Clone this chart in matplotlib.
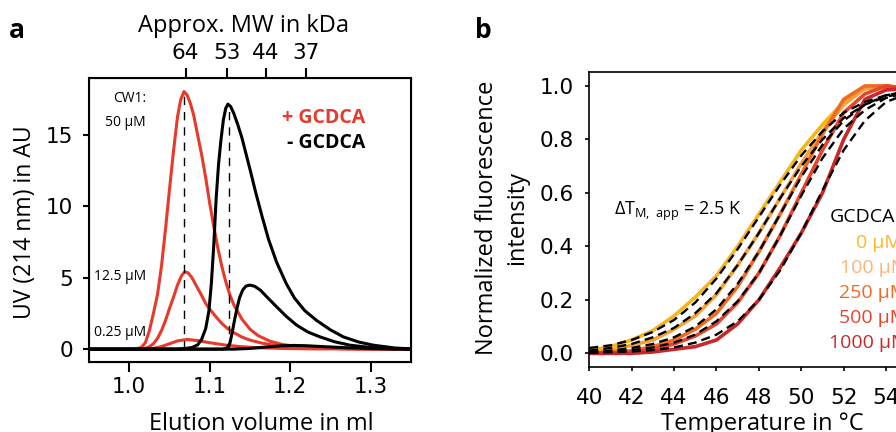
import matplotlib.pyplot as plt

plt.rcParams['font.family'] = ['DejaVu Sans']
LBL = ['Open Sans', 'DejaVu Sans']

# ---- panel a: SEC traces (elution volume in ml, UV in AU)
red50_x = [0.95, 1.00, 1.010, 1.015, 1.020, 1.025, 1.030, 1.035, 1.040, 1.045, 1.050, 1.055, 1.060, 1.064,
           1.068, 1.072, 1.076, 1.080, 1.085, 1.090, 1.095, 1.100, 1.105, 1.110, 1.115, 1.120, 1.125, 1.130,
           1.140, 1.150, 1.160, 1.175, 1.190, 1.210, 1.240, 1.280, 1.35]
red50_y = [0, 0, 0.05, 0.12, 0.45, 1.3, 2.5, 3.8, 5.8, 8.4, 11.2, 13.9, 16.3, 17.5,
           18.05, 17.8, 17.2, 16.4, 15.0, 13.6, 12.0, 10.2, 8.6, 7.1, 5.8, 4.7, 3.8, 3.1,
           2.1, 1.4, 0.95, 0.55, 0.33, 0.18, 0.07, 0.02, 0]
red12_x = [0.95, 1.00, 1.015, 1.020, 1.025, 1.030, 1.035, 1.040, 1.045, 1.050, 1.055, 1.060, 1.065, 1.069,
           1.073, 1.078, 1.084, 1.090, 1.095, 1.100, 1.108, 1.115, 1.122, 1.130, 1.140, 1.150, 1.165, 1.180,
           1.200, 1.230, 1.270, 1.35]
red12_y = [0, 0, 0.02, 0.06, 0.18, 0.38, 0.75, 1.3, 2.0, 2.85, 3.65, 4.5, 5.15, 5.42,
           5.35, 5.0, 4.37, 3.75, 3.2, 2.8, 2.25, 1.8, 1.45, 1.15, 0.85, 0.63, 0.42, 0.28,
           0.17, 0.08, 0.03, 0]
red025_x = [0.95, 1.02, 1.03, 1.04, 1.05, 1.06, 1.072, 1.085, 1.10, 1.12, 1.14, 1.16, 1.19, 1.23, 1.35]
red025_y = [0, 0, 0.05, 0.18, 0.38, 0.58, 0.68, 0.6, 0.45, 0.28, 0.17, 0.1, 0.05, 0.02, 0]

blk50_x = [0.95, 1.06, 1.07, 1.078, 1.085, 1.090, 1.095, 1.099, 1.102, 1.105, 1.108, 1.111, 1.114, 1.117,
           1.120, 1.1226, 1.126, 1.130, 1.135, 1.140, 1.145, 1.150, 1.157, 1.165, 1.173, 1.183, 1.195,
           1.205, 1.218, 1.233, 1.250, 1.266, 1.285, 1.303, 1.33, 1.35]
blk50_y = [0, 0, 0.05, 0.12, 0.3, 0.7, 1.45, 2.7, 4.6, 7.3, 10.6, 13.0, 14.7, 16.1,
           16.9, 17.17, 17.0, 16.5, 15.7, 14.8, 13.7, 12.6, 11.0, 9.3, 7.7, 6.1, 4.6,
           3.6, 2.7, 2.0, 1.35, 0.86, 0.5, 0.28, 0.08, 0.02]
blk12_x = [0.95, 1.115, 1.121, 1.125, 1.128, 1.131, 1.134, 1.137, 1.141, 1.145, 1.150, 1.156, 1.163,
           1.172, 1.183, 1.195, 1.208, 1.222, 1.237, 1.255, 1.274, 1.31, 1.35]
blk12_y = [0, 0, 0.05, 0.4, 1.2, 2.1, 2.9, 3.6, 4.15, 4.42, 4.49, 4.4, 4.13,
           3.6, 2.97, 2.3, 1.68, 1.2, 0.86, 0.52, 0.28, 0.05, 0]
blk025_x = [0.95, 1.13, 1.15, 1.17, 1.19, 1.205, 1.22, 1.24, 1.27, 1.30, 1.33, 1.35]
blk025_y = [0, 0, 0.05, 0.15, 0.24, 0.26, 0.24, 0.18, 0.1, 0.04, 0.01, 0]

peak_pos = [1.0685, 1.124]
peak_top = [18.0, 17.1]
mw_pos = [1.070, 1.121, 1.170, 1.220]
mw_lab = ['64', '53', '44', '37']

# ---- panel b: thermal unfolding, data (solid) and fits (dashed)
temp = [40, 41, 42, 43, 44, 45, 46, 47, 48, 49, 50, 51, 52, 53, 54, 55]
d0 = [0.01, 0.025, 0.05, 0.085, 0.14, 0.21, 0.29, 0.40, 0.52, 0.64, 0.76, 0.855, 0.94, 0.99, 0.995, 0.99]
d100 = [0.005, 0.012, 0.03, 0.05, 0.09, 0.14, 0.22, 0.33, 0.45, 0.58, 0.71, 0.83, 0.93, 0.99, 1.0, 0.99]
d250 = [0.0, 0.005, 0.01, 0.025, 0.05, 0.09, 0.15, 0.25, 0.38, 0.52, 0.67, 0.82, 0.95, 1.0, 1.0, 0.99]
d500 = [0.0, 0.0, 0.005, 0.015, 0.035, 0.065, 0.11, 0.19, 0.30, 0.44, 0.60, 0.76, 0.90, 0.97, 1.0, 0.99]
d1000 = [0.0, 0.0, 0.0, 0.005, 0.015, 0.025, 0.05, 0.11, 0.20, 0.32, 0.45, 0.60, 0.80, 0.95, 0.985, 0.99]
f0 = [0.02, 0.03, 0.05, 0.08, 0.125, 0.19, 0.28, 0.39, 0.51, 0.63, 0.74, 0.83, 0.90, 0.94, 0.965, 0.98]
f100 = [0.01, 0.02, 0.035, 0.06, 0.095, 0.15, 0.225, 0.33, 0.45, 0.58, 0.70, 0.80, 0.88, 0.93, 0.96, 0.975]
f250 = [0.005, 0.01, 0.02, 0.035, 0.06, 0.10, 0.165, 0.26, 0.38, 0.52, 0.66, 0.78, 0.87, 0.93, 0.965, 0.98]
f500 = [0.003, 0.006, 0.012, 0.022, 0.04, 0.07, 0.12, 0.195, 0.30, 0.44, 0.59, 0.73, 0.84, 0.91, 0.955, 0.975]
f1000 = [0.002, 0.004, 0.007, 0.012, 0.022, 0.04, 0.07, 0.12, 0.20, 0.31, 0.45, 0.61, 0.76, 0.87, 0.94, 0.97]
conc_lab = ['0 µM', '100 µM', '250 µM', '500 µM', '1000 µM']
conc_col = ['#F7B516', '#F5A03A', '#F06A22', '#E8432C', '#C8282A']
text_col = ['#F9B928', '#FBB57A', '#F26A25', '#E8432C', '#C22A2D']

RED = '#E8392B'
W, H = 896, 432
fig = plt.figure(figsize=(W / 100, H / 100), dpi=100)


def px(x, y):
    return x / W, 1 - y / H


# ---------------- panel a
ax = fig.add_axes([89 / W, 1 - 362 / H, 322 / W, 284 / H])
for xs, ys in [(red50_x, red50_y), (red12_x, red12_y), (red025_x, red025_y)]:
    ax.plot(xs, ys, color=RED, lw=2.2, solid_capstyle='butt')
for xs, ys in [(blk50_x, blk50_y), (blk12_x, blk12_y), (blk025_x, blk025_y)]:
    ax.plot(xs, ys, color='black', lw=2.2, solid_capstyle='butt')
for xp, yt in zip(peak_pos, peak_top):
    ax.plot([xp, xp], [0, yt], color='black', lw=1, dashes=(6, 5))
ax.set_xlim(0.95, 1.35)
ax.set_ylim(-0.9, 19)
ax.set_xticks([1.0, 1.1, 1.2, 1.3])
ax.set_xticklabels(['1.0', '1.1', '1.2', '1.3'])
ax.set_yticks([0, 5, 10, 15])
ax.tick_params(axis='x', length=7, width=1.5, pad=4, labelsize=15.5)
ax.tick_params(axis='y', length=4.5, width=1.5, pad=7, labelsize=15.5)
for s in ax.spines.values():
    s.set_linewidth(1.5)

top = ax.twiny()
top.set_xlim(ax.get_xlim())
top.set_xticks(mw_pos)
top.set_xticklabels(mw_lab)
top.tick_params(axis='x', length=7, width=1.5, pad=4, labelsize=15.5)

fig.text(*px(243, 32), 'Approx. MW in kDa', ha='center', va='baseline', fontsize=17, family=LBL)
fig.text(*px(261, 430), 'Elution volume in ml', ha='center', va='baseline', fontsize=17, family=LBL)
fig.text(*px(25, 222), 'UV (214 nm) in AU', ha='center', va='center', rotation=90, fontsize=16.5, family=LBL)
fig.text(*px(17, 30), 'a', ha='center', va='center', fontsize=19, fontweight='bold', family=LBL)

for lab, yy in [('CW1:', 99), ('50 µM', 123), ('12.5 µM', 277), ('0.25 µM', 332)]:
    fig.text(*px(146, yy), lab, ha='right', va='center', fontsize=10, family=LBL)
fig.text(*px(365, 118), '+ GCDCA', ha='right', va='center', fontsize=14, fontweight='bold', color=RED, family=LBL)
fig.text(*px(365, 143), '- GCDCA', ha='right', va='center', fontsize=14, fontweight='bold', color='black', family=LBL)

# ---------------- panel b
bx = fig.add_axes([589.3 / W, 1 - 366.7 / H, 18 * 21.2 / W, 294.7 / H])
for ys, c in zip([d0, d100, d250, d500, d1000], conc_col):
    bx.plot(temp, ys, color=c, lw=2.6)
for ys in [f0, f100, f250, f500, f1000]:
    bx.plot(temp, ys, color='black', lw=1.7, dashes=(3.8, 2.2))
bx.set_xlim(40, 58)
bx.set_ylim(-0.05, 1.052)
bx.set_xticks(range(40, 58, 2))
bx.set_yticks([0, 0.2, 0.4, 0.6, 0.8, 1.0])
bx.set_yticklabels(['0.0', '0.2', '0.4', '0.6', '0.8', '1.0'])
bx.tick_params(axis='x', length=3, width=1.2, pad=12, labelsize=15.5)
bx.tick_params(axis='y', length=3, width=1.2, pad=8, labelsize=15.5)
for s in bx.spines.values():
    s.set_linewidth(1.2)

fig.text(*px(502, 218), 'Normalized fluorescence\nintensity', ha='center', va='center', rotation=90,
         fontsize=17, linespacing=1.35, family=LBL)
fig.text(*px(762, 430), 'Temperature in °C', ha='center', va='baseline', fontsize=17, family=LBL)
fig.text(*px(483, 30), 'b', ha='center', va='center', fontsize=19, fontweight='bold', family=LBL)
fig.text(*px(614, 211), r'ΔT$_{\mathregular{M,\ app}}$ = 2.5 K', ha='left', va='center', fontsize=13, family=LBL)

fig.text(*px(830, 217), 'GCDCA', ha='left', va='center', fontsize=14, family=LBL)
leg_x = [856, 840, 839, 839, 829]
leg_y = [243, 268, 293, 318, 343]
for lab, c, lx, ly in zip(conc_lab, text_col, leg_x, leg_y):
    fig.text(*px(lx, ly), lab, ha='left', va='center', fontsize=14, color=c, family=LBL)

fig.savefig('out.png', dpi=100)
